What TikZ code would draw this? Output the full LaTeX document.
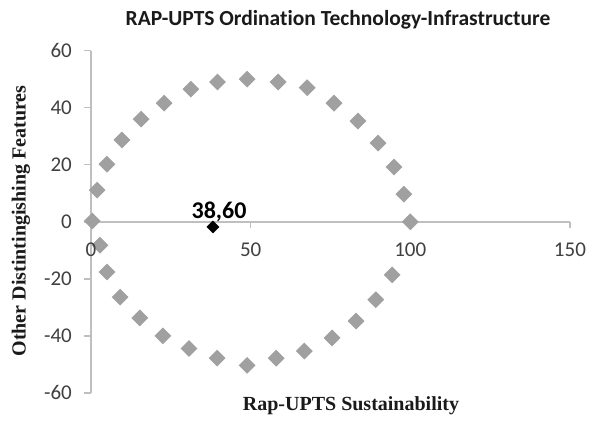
\documentclass[tikz,border=0pt]{standalone}
\usepackage{fontspec}
\setmainfont{Liberation Serif}
\newfontfamily\calfont[Ligatures={NoCommon}]{Carlito}
\usetikzlibrary{shapes.geometric}
\definecolor{axisgray}{HTML}{BFBFBF}
\definecolor{markgray}{HTML}{A0A0A0}
\definecolor{ticktext}{HTML}{404040}
\definecolor{titletext}{HTML}{1A1A1A}
\tikzset{
  axisline/.style={draw=axisgray, line width=1.4bp},
  anchorpt/.style={diamond, fill=markgray, inner sep=0pt, minimum width=17bp, minimum height=17bp},
  resultpt/.style={diamond, fill=black, inner sep=0pt, minimum width=13bp, minimum height=13bp},
  ticklabel/.style={font=\calfont\fontsize{21bp}{24bp}\selectfont, text=ticktext, inner sep=0pt},
  charttitle/.style={font=\calfont\bfseries\fontsize{21.5bp}{24bp}\selectfont, text=titletext, inner sep=0pt},
  axistitle/.style={font=\bfseries\fontsize{20bp}{23bp}\selectfont, text=titletext, inner sep=0pt},
  pointlabel/.style={font=\calfont\bfseries\fontsize{24bp}{26bp}\selectfont, text=black, inner sep=0pt}
}
\begin{document}
\begin{tikzpicture}
\useasboundingbox (0,0) rectangle (595bp,-421bp);
\fill[white] (0,0) rectangle (595bp,-421bp);
\node[charttitle] (title) at (338bp,-20bp) {RAP-UPTS Ordination Technology-Infrastructure};
\node[axistitle, rotate=90] (ytitle) at (21bp,-221bp) {Other Distintingishing Features};
\node[axistitle] (xtitle) at (351bp,-406bp) {Rap-UPTS Sustainability};
\begin{scope}[shift={(91bp,-221.8bp)}, x=3.193bp, y=2.853bp]
  \coordinate (ytop) at (0,60);
  \coordinate (ybot) at (0,-60);
  \coordinate (xleft) at (0,0);
  \coordinate (xright) at (150,0);
  \draw[axisline] (ybot) -- (ytop);
  \draw[axisline] (xleft) -- (xright);
  \foreach \v in {-60,-40,...,60} {
    \coordinate (yt\v) at (0,\v);
    \draw[axisline] (yt\v) -- ++(-7bp,0);
    \node[ticklabel, anchor=east] (yl\v) at ([xshift=-19bp]yt\v) {\v};
  }
  \foreach \v in {50,100,150} {
    \coordinate (xt\v) at (\v,0);
    \draw[axisline] (xt\v) -- ++(0,-6bp);
  }
  \foreach \v in {0,50,100,150} {
    \coordinate (xa\v) at (\v,0);
  }
  \foreach [count=\i] \px/\py in {
    100/0, 98/9.7, 94.9/19.2, 89.9/27.6, 83.6/35.3, 76.1/41.6, 67.7/47, 58.6/49,
    48.9/50, 39.6/49, 31.3/46.5, 22.9/41.6, 15.7/36, 9.7/28.7, 5/20.2, 1.9/11.1, 0.4/0.3,
    2.8/-8.2, 5/-17.6, 9.1/-26.4, 15.3/-33.7, 22.5/-40, 30.7/-44.4, 39.5/-47.8,
    48.9/-50.3, 58/-47.8, 66.8/-45.3, 75.5/-40.7, 83/-34.8, 89.2/-27.3, 94.3/-18.6} {
    \node[anchorpt] (p\i) at (\px,\py) {};
  }
  \foreach \v in {0,50,100,150} {
    \node[ticklabel] (xl\v) at ([yshift=-27.5bp]xa\v) {\v};
  }
  \node[resultpt] (res) at (38.2,-1.8) {};
  \node[pointlabel] (reslabel) at (40.1,3.4) {38,60};
\end{scope}
\end{tikzpicture}
\end{document}
